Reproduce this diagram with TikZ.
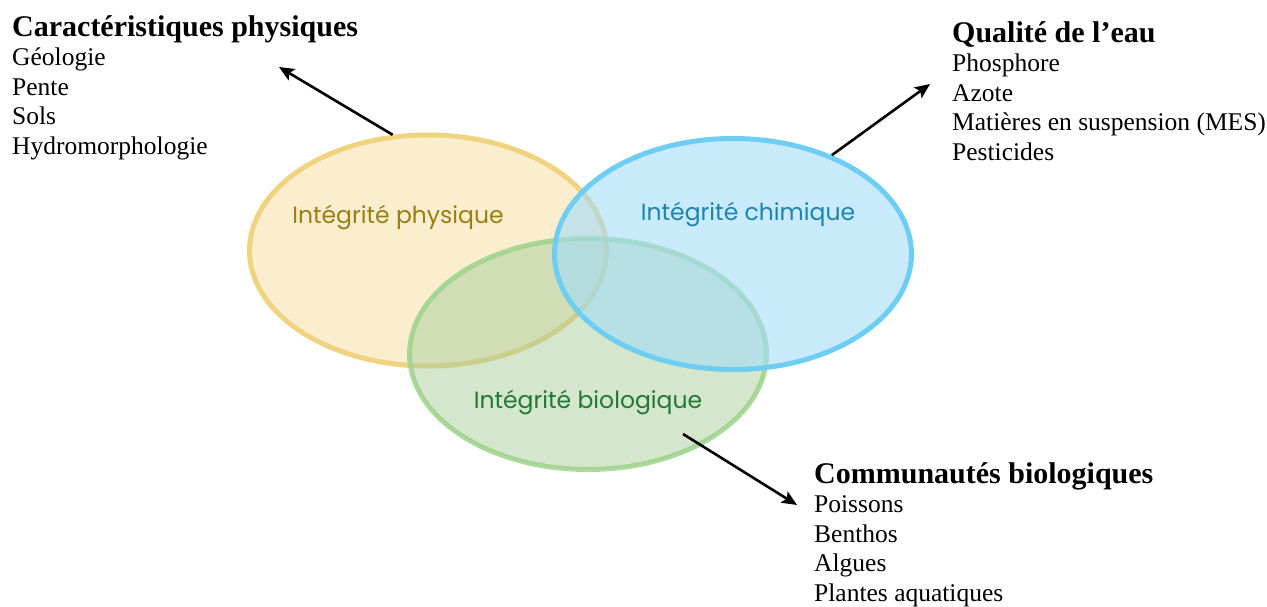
\documentclass[tikz,border=0pt]{standalone}
\usepackage{fontspec}
\setmainfont{Liberation Serif}
\newfontfamily\roundfont{Poppins}
\usetikzlibrary{shapes.geometric,arrows.meta}

\definecolor{yelLine}{HTML}{F0D37E}
\definecolor{yelFill}{HTML}{F5DDA0}
\definecolor{yelText}{HTML}{9A7F10}
\definecolor{bluLine}{HTML}{6DCDF2}
\definecolor{bluFill}{HTML}{A3DCF7}
\definecolor{bluText}{HTML}{1A86B0}
\definecolor{grnLine}{HTML}{9CD38B}
\definecolor{grnFill}{HTML}{A9CD99}
\definecolor{grnText}{HTML}{1F7A35}

\tikzset{
  zone/.style={ellipse, minimum width=357pt, minimum height=231pt,
    inner sep=0pt, line width=5pt},
  zonelabel/.style={font=\roundfont\fontsize{23.5}{28}\selectfont, inner sep=0pt, anchor=base},
  heading/.style={font=\bfseries\fontsize{30}{34}\selectfont, inner sep=0pt, anchor=base west},
  listitem/.style={font=\fontsize{25.5}{29.6}\selectfont, inner sep=0pt, anchor=base west},
  pointer/.style={line width=2.6pt, -{Stealth[length=15pt,width=13pt,inset=3pt]}}
}

\begin{document}
\begin{tikzpicture}[x=1pt,y=-1pt]
\useasboundingbox (0,0) rectangle (1267,606);

% the three overlapping zones
\node[zone, draw=yelLine, fill=yelFill, fill opacity=0.5] (phys) at (428,250.5) {};
\node[zone, draw=grnLine, draw opacity=0.85, fill=grnFill, fill opacity=0.5] (bio) at (588,354) {};
\node[zone, draw=bluLine, fill=bluFill, fill opacity=0.6] (chem) at (733,254) {};

\node[zonelabel, text=yelText] (physL) at (398,223) {Intégrité physique};
\node[zonelabel, text=bluText] (chemL) at (748,220) {Intégrité chimique};
\node[zonelabel, text=grnText] (bioL) at (588,408) {Intégrité biologique};

% physical characteristics
\node[heading] (physH) at (12,36) {Caractéristiques physiques};
\foreach \t [count=\i] in {Géologie, Pente, Sols, Hydromorphologie}
  \node[listitem] (physI\i) at (12,{36+29.6*\i}) {\t};

% water quality
\node[heading] (chemH) at (952,42) {Qualité de l’eau};
\foreach \t [count=\i] in {Phosphore, Azote, Matières en suspension (MES), Pesticides}
  \node[listitem] (chemI\i) at (952,{42+29.6*\i}) {\t};

% biological communities
\node[heading] (bioH) at (814,483) {Communautés biologiques};
\foreach \t [count=\i] in {Poissons, Benthos, Algues, Plantes aquatiques}
  \node[listitem] (bioI\i) at (814,{483+29.6*\i}) {\t};

% pointers from the zones to their descriptions
\coordinate (physTip) at (279,67);
\coordinate (chemTip) at (930,84);
\coordinate (bioTail) at (683,434);
\coordinate (bioTip) at (797,505);
\draw[pointer] (phys.107) -- (physTip);
\draw[pointer] (chem.45) -- (chemTip);
\draw[pointer] (bioTail) -- (bioTip);
\end{tikzpicture}
\end{document}
